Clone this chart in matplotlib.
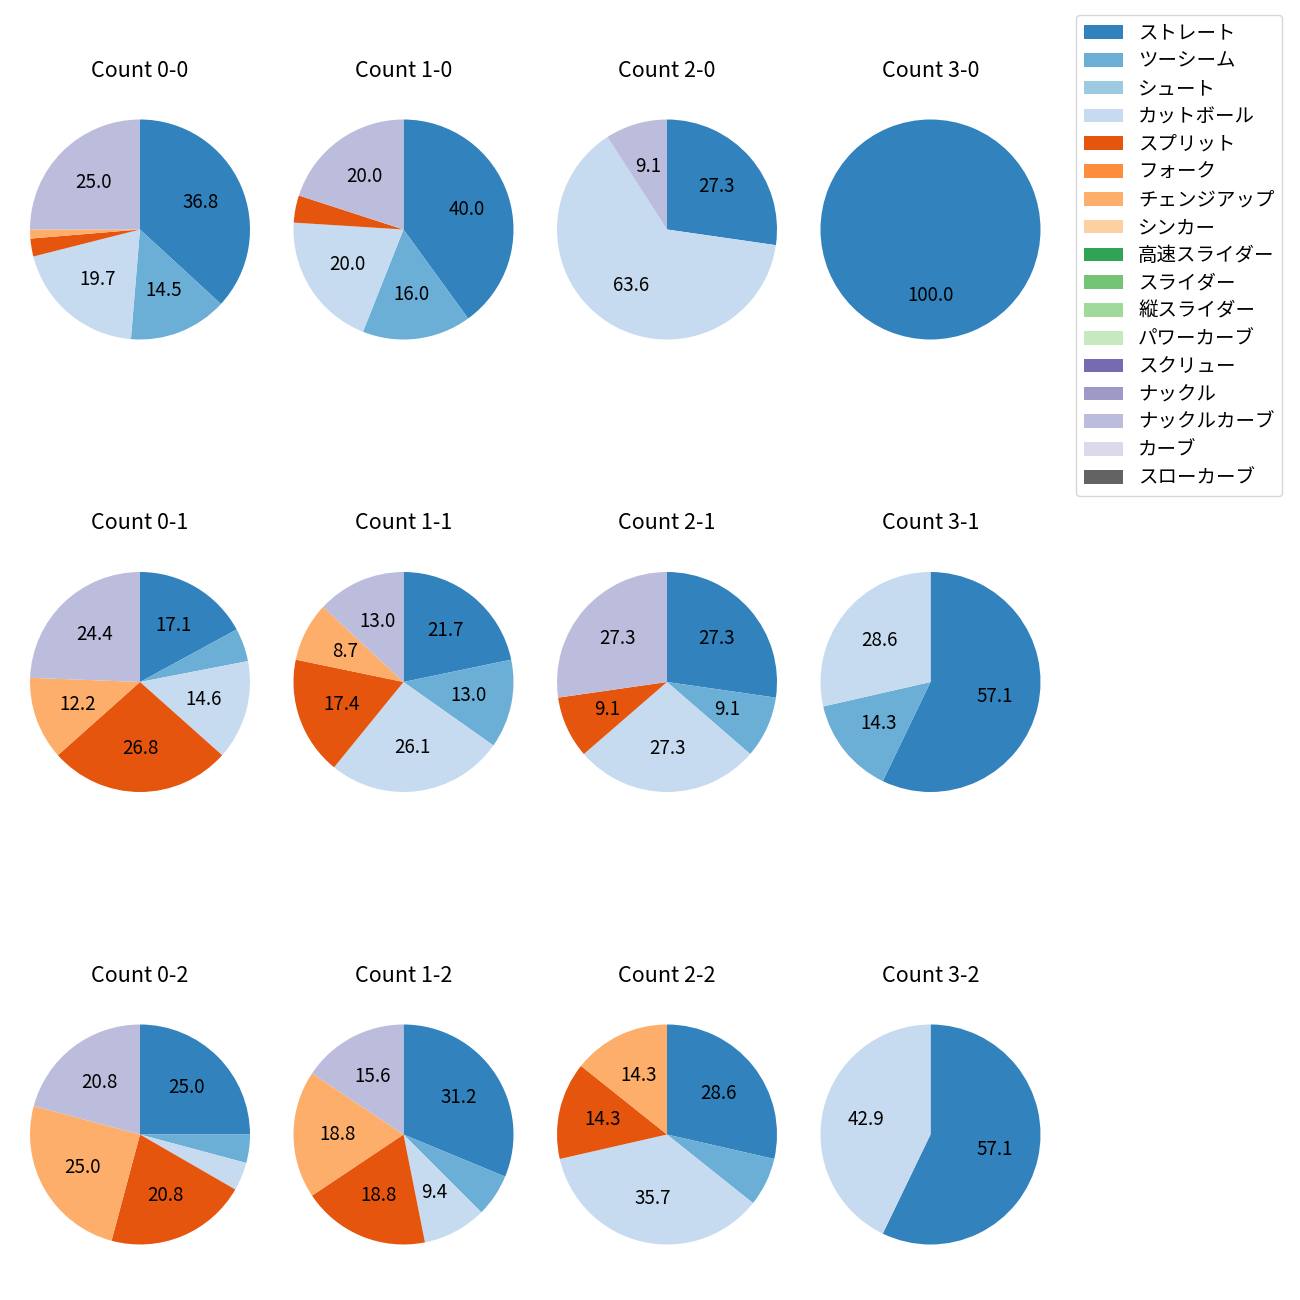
import matplotlib
matplotlib.use('Agg')
import matplotlib.pyplot as plt
from matplotlib.patches import Patch

plt.rcParams['font.family'] = ['Noto Sans CJK JP', 'DejaVu Sans']

# 球種 (凡例の順)
pitch_types = ['ストレート', 'ツーシーム', 'シュート', 'カットボール', 'スプリット',
               'フォーク', 'チェンジアップ', 'シンカー', '高速スライダー', 'スライダー',
               '縦スライダー', 'パワーカーブ', 'スクリュー', 'ナックル', 'ナックルカーブ',
               'カーブ', 'スローカーブ']

counts = ['0-0', '1-0', '2-0', '3-0',
          '0-1', '1-1', '2-1', '3-1',
          '0-2', '1-2', '2-2', '3-2']

# 投球数 (カウント別, 球種の順)
c_0_0 = [28, 11, 0, 15, 2, 0, 1, 0, 0, 0, 0, 0, 0, 0, 19, 0, 0]
c_1_0 = [10, 4, 0, 5, 1, 0, 0, 0, 0, 0, 0, 0, 0, 0, 5, 0, 0]
c_2_0 = [3, 0, 0, 7, 0, 0, 0, 0, 0, 0, 0, 0, 0, 0, 1, 0, 0]
c_3_0 = [1, 0, 0, 0, 0, 0, 0, 0, 0, 0, 0, 0, 0, 0, 0, 0, 0]
c_0_1 = [7, 2, 0, 6, 11, 0, 5, 0, 0, 0, 0, 0, 0, 0, 10, 0, 0]
c_1_1 = [5, 3, 0, 6, 4, 0, 2, 0, 0, 0, 0, 0, 0, 0, 3, 0, 0]
c_2_1 = [3, 1, 0, 3, 1, 0, 0, 0, 0, 0, 0, 0, 0, 0, 3, 0, 0]
c_3_1 = [4, 1, 0, 2, 0, 0, 0, 0, 0, 0, 0, 0, 0, 0, 0, 0, 0]
c_0_2 = [6, 1, 0, 1, 5, 0, 6, 0, 0, 0, 0, 0, 0, 0, 5, 0, 0]
c_1_2 = [10, 2, 0, 3, 6, 0, 6, 0, 0, 0, 0, 0, 0, 0, 5, 0, 0]
c_2_2 = [4, 1, 0, 5, 2, 0, 2, 0, 0, 0, 0, 0, 0, 0, 0, 0, 0]
c_3_2 = [4, 0, 0, 3, 0, 0, 0, 0, 0, 0, 0, 0, 0, 0, 0, 0, 0]

datos = [c_0_0, c_1_0, c_2_0, c_3_0,
         c_0_1, c_1_1, c_2_1, c_3_1,
         c_0_2, c_1_2, c_2_2, c_3_2]

colores = list(plt.cm.tab20c.colors)[:16] + ['#636363']

fig = plt.figure(figsize=(13, 13), dpi=100)

# centros de cada pie (px)
cx = [140, 403.5, 667, 930.5]
cy = [229.5, 682, 1134.5]
lado = 275

for i, (cuenta, valores) in enumerate(zip(counts, datos)):
    fila = i // 4
    col = i % 4
    ax = fig.add_axes([(cx[col] - lado / 2) / 1300, 1 - (cy[fila] + lado / 2) / 1300,
                       lado / 1300, lado / 1300])
    ax.pie(valores, colors=colores, startangle=90, counterclock=False,
           autopct=lambda p: f'{p:.1f}' if p > 8 else '',
           textprops={'fontsize': 13.5})
    ax.set_title(f'Count {cuenta}', fontsize=15.5, pad=11)

handles = [Patch(facecolor=c) for c in colores]
fig.legend(handles, pitch_types, loc='upper right', bbox_to_anchor=(0.994, 0.996),
           fontsize=14, labelspacing=0.35)

fig.savefig('out.png', dpi=100)
